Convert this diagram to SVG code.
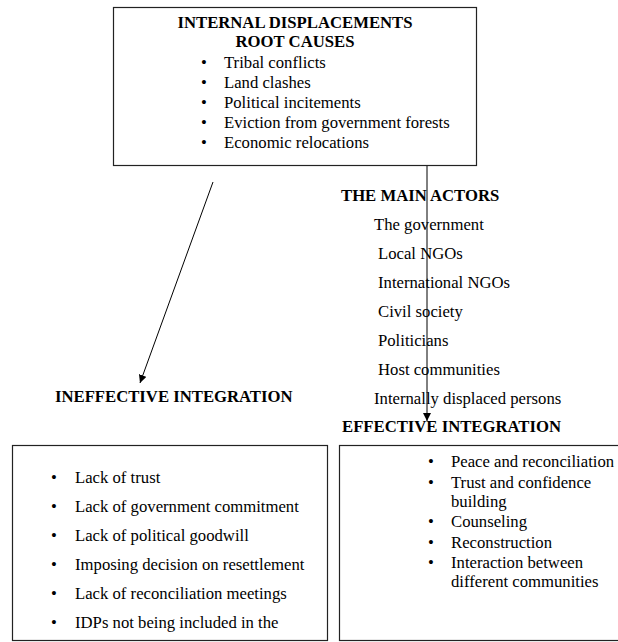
<svg xmlns="http://www.w3.org/2000/svg" width="618" height="642" viewBox="0 0 618 642">
<style>
text{font-family:"Liberation Serif","Times New Roman",serif;font-size:16.7px;fill:#000}
.b{font-weight:bold}
.box{fill:#fff;stroke:#222;stroke-width:1.2}
.c{stroke:#000;stroke-width:1;fill:none}
</style>
<defs>
<marker id="ah" viewBox="0 0 10 10" refX="10" refY="5" markerWidth="8" markerHeight="8" markerUnits="userSpaceOnUse" orient="auto"><path d="M0,0L10,5L0,10z" fill="#000"/></marker>
</defs>
<rect width="618" height="642" fill="#fff"/>
<g id="root-causes">
<rect class="box" x="113.5" y="7.5" width="363" height="158"/>
<text class="b" x="295" y="28" text-anchor="middle">INTERNAL DISPLACEMENTS</text>
<text class="b" x="295" y="47" text-anchor="middle">ROOT CAUSES</text>
<text x="201" y="68">•</text><text x="224" y="68">Tribal conflicts</text>
<text x="201" y="88">•</text><text x="224" y="88">Land clashes</text>
<text x="201" y="108">•</text><text x="224" y="108">Political incitements</text>
<text x="201" y="128">•</text><text x="224" y="128">Eviction from government forests</text>
<text x="201" y="148">•</text><text x="224" y="148">Economic relocations</text>
</g>
<g id="main-actors">
<text class="b" x="341" y="201">THE MAIN ACTORS</text>
<text x="374" y="230">The government</text>
<text x="378" y="259">Local NGOs</text>
<text x="378" y="288">International NGOs</text>
<text x="378" y="317">Civil society</text>
<text x="378" y="346">Politicians</text>
<text x="378" y="375">Host communities</text>
<text x="374" y="404">Internally displaced persons</text>
</g>
<g id="ineffective-label">
<text class="b" x="55" y="402">INEFFECTIVE INTEGRATION</text>
</g>
<g id="effective-label">
<text class="b" x="342" y="432">EFFECTIVE INTEGRATION</text>
</g>
<g id="ineffective-box">
<rect class="box" x="12.5" y="445.5" width="315" height="195"/>
<text x="51" y="483">•</text><text x="75" y="483">Lack of trust</text>
<text x="51" y="512">•</text><text x="75" y="512">Lack of government commitment</text>
<text x="51" y="541">•</text><text x="75" y="541">Lack of political goodwill</text>
<text x="51" y="570">•</text><text x="75" y="570">Imposing decision on resettlement</text>
<text x="51" y="599">•</text><text x="75" y="599">Lack of reconciliation meetings</text>
<text x="51" y="628">•</text><text x="75" y="628">IDPs not being included in the</text>
</g>
<g id="effective-box">
<rect class="box" x="339.5" y="445.5" width="290" height="195"/>
<text x="428" y="467">•</text><text x="451" y="467">Peace and reconciliation</text>
<text x="428" y="488">•</text><text x="451" y="488">Trust and confidence</text>
<text x="451" y="507">building</text>
<text x="428" y="527">•</text><text x="451" y="527">Counseling</text>
<text x="428" y="548">•</text><text x="451" y="548">Reconstruction</text>
<text x="428" y="568">•</text><text x="451" y="568">Interaction between</text>
<text x="451" y="587">different communities</text>
</g>
<g id="connectors">
<line class="c" x1="427" y1="166" x2="427" y2="421" marker-end="url(#ah)"/>
<line class="c" x1="213" y1="182" x2="140" y2="383" marker-end="url(#ah)"/>
</g>
</svg>
